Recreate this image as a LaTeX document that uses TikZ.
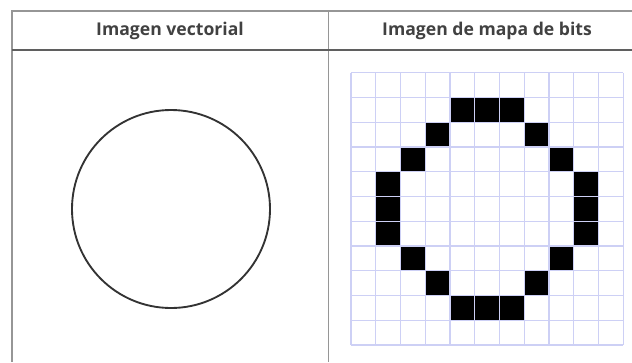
\documentclass[tikz,border=0pt]{standalone}
\usepackage{fontspec}
\setmainfont{Open Sans}
\usetikzlibrary{positioning}
\definecolor{rule}{RGB}{150,150,150}
\definecolor{headrule}{RGB}{95,95,95}
\definecolor{headtext}{RGB}{65,65,65}
\definecolor{gridline}{RGB}{205,208,245}
\tikzset{
  header/.style={font=\fontsize{13.2}{15}\selectfont\bfseries, text=headtext, inner sep=0pt},
  frame/.style={draw=rule, line width=1.1pt},
  pixel/.style={fill=black, draw=none},
}

\begin{document}
\begin{tikzpicture}[x=0.75pt, y=-0.75pt]
  \useasboundingbox (0,0) rectangle (632,362);

  % Table frame
  \draw [frame] (632,11) -- (12,11) -- (12,362);
  \draw [frame] (328.5,11) -- (328.5,362);
  \draw [draw=headrule, line width=1.1pt] (12,50) -- (632,50);

  % Headers
  \node (hvec) [header] at (170,31) {Imagen vectorial};
  \node (hbit) [header] at (487,31) {Imagen de mapa de bits};

  % Vector image
  \node (circ) [circle, draw=black!80, line width=1.4pt, minimum size=198*0.75pt, inner sep=0pt] at (171,209) {};

  % Bitmap image: 11x11 grid, cell 24.75
  \foreach \c/\r in {4/1,5/1,6/1, 3/2,7/2, 2/3,8/3, 1/4,9/4, 1/5,9/5, 1/6,9/6,
                     2/7,8/7, 3/8,7/8, 4/9,5/9,6/9}
    \fill [pixel] (351+24.75*\c,72.7+24.75*\r) rectangle ++(24.75,24.75);
  \foreach \i in {0,...,11} {
    \draw [gridline, line width=0.9pt] (351+24.75*\i,72.7) -- (351+24.75*\i,345);
    \draw [gridline, line width=0.9pt] (351,72.7+24.75*\i) -- (623.25,72.7+24.75*\i);
  }
\end{tikzpicture}
\end{document}
